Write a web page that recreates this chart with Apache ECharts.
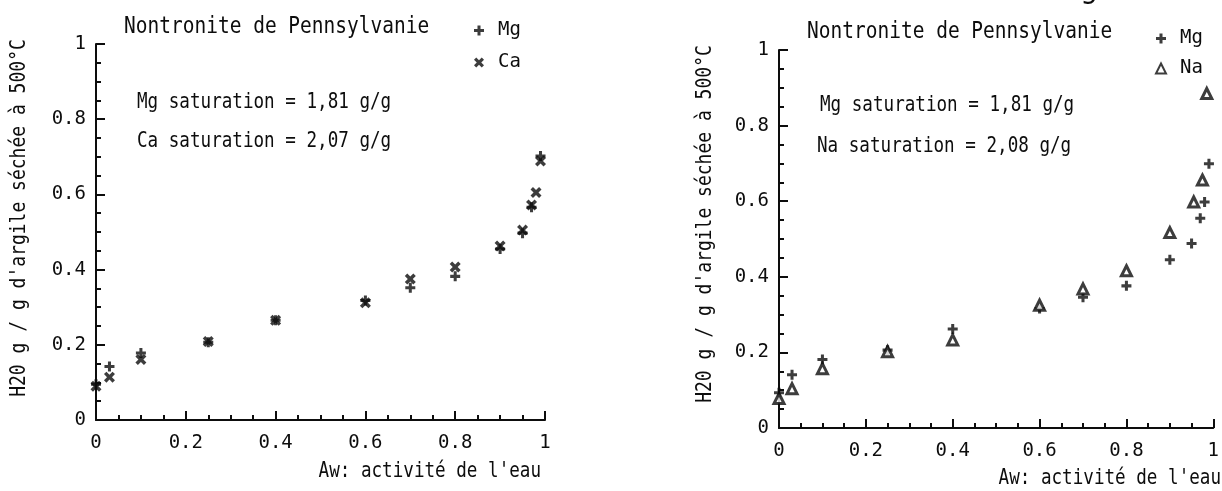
<!DOCTYPE html>
<html>
<head>
<meta charset="utf-8">
<script src="https://cdn.jsdelivr.net/npm/echarts@6/dist/echarts.min.js"></script>
<style>
  html, body { margin: 0; padding: 0; background: #fff; }
  #chart { width: 1222px; height: 491px; }
</style>
</head>
<body>
<div id="chart"></div>
<script>
// left panel: Mg and Ca
const mgAwLeft = [0, 0.03, 0.1, 0.25, 0.4, 0.6, 0.7, 0.8, 0.9, 0.95, 0.97, 0.99];
const mgLeft   = [0.095, 0.142, 0.178, 0.207, 0.265, 0.318, 0.352, 0.382, 0.455, 0.497, 0.566, 0.702];
const caAw     = [0, 0.03, 0.1, 0.25, 0.4, 0.6, 0.7, 0.8, 0.9, 0.95, 0.97, 0.98, 0.99];
const caLeft   = [0.09, 0.114, 0.161, 0.209, 0.265, 0.312, 0.375, 0.407, 0.463, 0.505, 0.572, 0.605, 0.689];

// right panel: Mg and Na
const mgAwRight = [0, 0.03, 0.1, 0.25, 0.4, 0.6, 0.7, 0.8, 0.9, 0.95, 0.97, 0.98, 0.99];
const mgRight   = [0.093, 0.141, 0.181, 0.206, 0.262, 0.316, 0.346, 0.376, 0.445, 0.488, 0.555, 0.598, 0.699];
const naAw      = [0, 0.03, 0.1, 0.25, 0.4, 0.6, 0.7, 0.8, 0.9, 0.955, 0.975, 0.985];
const naRight   = [0.078, 0.104, 0.157, 0.202, 0.233, 0.325, 0.368, 0.416, 0.517, 0.598, 0.656, 0.885];

const axisTicks = [0, 0.2, 0.4, 0.6, 0.8, 1];

const ink = '#0d0d0d';
const mono = '"DejaVu Sans Mono", "Liberation Mono", monospace';
const plusPath = 'path://M3,0 H5.6 V3 H8.6 V5.6 H5.6 V8.6 H3 V5.6 H0 V3 H3 Z';
const crossPath = 'path://M0,1.8 L1.8,0 L4,2.2 L6.2,0 L8,1.8 L5.8,4 L8,6.2 L6.2,8 L4,5.8 L1.8,8 L0,6.2 L2.2,4 Z';

const zip = (xs, ys) => xs.map((x, i) => [x, ys[i]]);

const chart = echarts.init(document.getElementById('chart'));

function valueAxis(gridIndex, labelMargin) {
  return {
    type: 'value',
    gridIndex,
    min: 0,
    max: 1,
    interval: 0.2,
    splitLine: { show: false },
    axisLine: { lineStyle: { color: ink, width: 2 } },
    axisTick: { inside: true, length: 9, lineStyle: { color: ink, width: 2 } },
    minorTick: { show: true, splitNumber: 4, length: 5, lineStyle: { color: ink, width: 2 } },
    axisLabel: {
      color: ink,
      fontFamily: mono,
      fontSize: 19,
      margin: labelMargin,
      formatter: (v) => String(axisTicks.find((t) => Math.abs(t - v) < 1e-9))
    }
  };
}

// plotter lettering is tall and narrow, so stretch the text vertically a bit
function txt(x, y, text, size, align) {
  return {
    type: 'text',
    x,
    y,
    scaleY: 1.18,
    style: {
      text,
      fill: ink,
      font: size + 'px ' + mono,
      textAlign: align || 'left',
      textVerticalAlign: 'middle'
    }
  };
}

function vtxt(x, y, text, size) {
  return {
    type: 'text',
    x,
    y,
    rotation: Math.PI / 2,
    scaleY: 1.15,
    style: {
      text,
      fill: ink,
      font: size + 'px ' + mono,
      textAlign: 'center',
      textVerticalAlign: 'middle'
    }
  };
}

const yName = "H20 g / g d'argile séchée à 500°C";
const xName = "Aw: activité de l'eau";

const legendText = { color: ink, fontFamily: mono, fontSize: 19, padding: [0, 0, 0, 9] };

chart.setOption({
  backgroundColor: '#fff',
  animation: false,
  grid: [
    { left: 96, top: 44, width: 449, height: 376 },
    { left: 779, top: 50, width: 441, height: 378 }
  ],
  xAxis: [valueAxis(0, 14), valueAxis(1, 14)],
  yAxis: [valueAxis(0, 10), valueAxis(1, 10)],
  legend: [
    {
      left: 469, top: 16, orient: 'vertical', itemGap: 13,
      itemWidth: 10, itemHeight: 10, selectedMode: false,
      textStyle: legendText,
      data: ['Mg', 'Ca']
    },
    {
      left: 1150, top: 24, orient: 'vertical', itemGap: 11,
      itemWidth: 10, itemHeight: 10, selectedMode: false,
      textStyle: legendText,
      data: ['Mg', 'Na']
    }
  ],
  series: [
    {
      name: 'Mg', type: 'scatter', xAxisIndex: 0, yAxisIndex: 0,
      symbol: plusPath, symbolSize: 10, itemStyle: { color: ink },
      data: zip(mgAwLeft, mgLeft)
    },
    {
      name: 'Ca', type: 'scatter', xAxisIndex: 0, yAxisIndex: 0,
      symbol: crossPath, symbolSize: 11, itemStyle: { color: ink },
      data: zip(caAw, caLeft)
    },
    {
      name: 'Mg', type: 'scatter', xAxisIndex: 1, yAxisIndex: 1,
      symbol: plusPath, symbolSize: 10, itemStyle: { color: ink },
      data: zip(mgAwRight, mgRight)
    },
    {
      name: 'Na', type: 'scatter', xAxisIndex: 1, yAxisIndex: 1,
      symbol: 'triangle', symbolSize: 10,
      itemStyle: { color: '#fff', borderColor: ink, borderWidth: 3 },
      data: zip(naAw, naRight)
    }
  ],
  graphic: [
    txt(124, 27, 'Nontronite de Pennsylvanie', 19.5),
    txt(137, 103, 'Mg saturation = 1,81 g/g', 17.6),
    txt(137, 142, 'Ca saturation = 2,07 g/g', 17.6),
    txt(541, 472, xName, 17.6, 'right'),
    vtxt(20, 218, yName, 18),

    txt(807, 32, 'Nontronite de Pennsylvanie', 19.5),
    txt(820, 106, 'Mg saturation = 1,81 g/g', 17.6),
    txt(817, 147, 'Na saturation = 2,08 g/g', 17.6),
    txt(1221, 479, xName, 17.6, 'right'),
    vtxt(706, 224, yName, 18),
    {
      // bottom of a letter from a heading cut off above the scan
      type: 'text', x: 1080, y: 5,
      style: { text: 'g', fill: ink, font: '30px ' + mono, textVerticalAlign: 'bottom' }
    }
  ]
});
</script>
</body>
</html>
